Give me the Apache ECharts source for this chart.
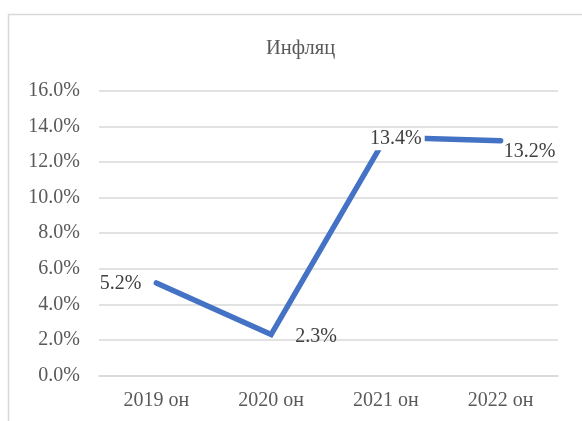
<!DOCTYPE html>
<html>
<head>
<meta charset="utf-8">
<script src="https://cdn.jsdelivr.net/npm/echarts@6/dist/echarts.min.js"></script>
<style>
html,body{margin:0;padding:0;background:#fff;}
#c{width:582px;height:421px;}
</style>
</head>
<body>
<div id="c"></div>
<script>
var titleText = 'Инфляц';
var categories = ['2019 он', '2020 он', '2021 он', '2022 он'];
var inflation = [5.2, 2.3, 13.4, 13.2];
var yMin = 0, yMax = 16, yStep = 2;

var labelCfg = [
  {position: 'left', distance: 13, offset: [0, 1]},
  {position: 'right', distance: 22, offset: [0, 2]},
  {position: 'inside', offset: [10, 2], backgroundColor: '#fff', padding: [1, 3]},
  {position: 'right', distance: 1, offset: [0, 11]}
];

var seriesData = inflation.map(function (v, i) {
  return {value: v, label: labelCfg[i]};
});

var font = 'Liberation Serif';
var chart = echarts.init(document.getElementById('c'), null, {renderer: 'canvas'});
chart.setOption({
  animation: false,
  backgroundColor: '#fff',
  title: {
    text: titleText,
    left: 261,
    top: 33,
    textStyle: {fontFamily: font, fontSize: 20.5, fontWeight: 'normal', color: '#595959'}
  },
  graphic: [{
    type: 'rect',
    shape: {x: 8.5, y: 14.5, width: 700, height: 600},
    style: {fill: 'none', stroke: '#d9d9d9', lineWidth: 1.5},
    silent: true
  }],
  grid: {left: 99, right: 24, top: 91, bottom: 45.6},
  xAxis: {
    type: 'category',
    data: categories,
    boundaryGap: true,
    axisLine: {show: true, lineStyle: {color: '#d9d9d9', width: 1.5}},
    axisTick: {show: false},
    axisLabel: {fontFamily: font, fontSize: 20, color: '#595959', margin: 15}
  },
  yAxis: {
    type: 'value',
    min: yMin, max: yMax, interval: yStep,
    axisLine: {show: false},
    axisTick: {show: false},
    splitLine: {lineStyle: {color: '#d9d9d9', width: 1.5}},
    axisLabel: {
      fontFamily: font, fontSize: 20, color: '#595959', margin: 19,
      formatter: function (v) { return v.toFixed(1) + '%'; }
    }
  },
  series: [{
    type: 'line',
    data: seriesData,
    symbol: 'circle',
    symbolSize: 4,
    itemStyle: {color: '#4472C4'},
    lineStyle: {color: '#4472C4', width: 5.5, cap: 'round', join: 'miter'},
    label: {
      show: true,
      fontFamily: font,
      fontSize: 20,
      color: '#404040',
      formatter: function (p) { return p.value.toFixed(1) + '%'; }
    }
  }]
});
</script>
</body>
</html>
